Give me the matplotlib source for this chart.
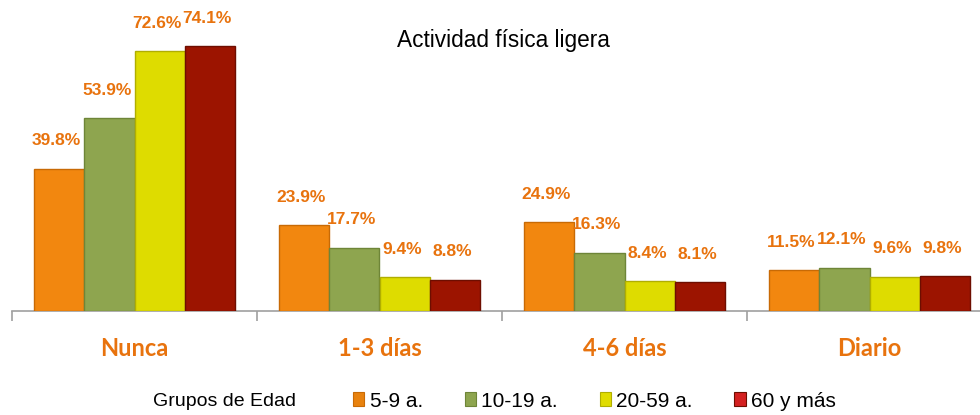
import matplotlib
matplotlib.use("Agg")
import matplotlib.pyplot as plt
from matplotlib.patches import Patch
import numpy as np

categories = ["Nunca", "1-3 días", "4-6 días", "Diario"]
groups = ["5-9 a.", "10-19 a.", "20-59 a.", "60 y más"]
v_5_9 = [39.8, 23.9, 24.9, 11.5]
v_10_19 = [53.9, 17.7, 16.3, 12.1]
v_20_59 = [72.6, 9.4, 8.4, 9.6]
v_60 = [74.1, 8.8, 8.1, 9.8]
series = [v_5_9, v_10_19, v_20_59, v_60]

colors = ["#F2870F", "#8EA54F", "#DEDC00", "#9C1400"]
edges = ["#C86A05", "#6E8538", "#B0AE00", "#6E0E00"]
legend_colors = ["#E8820E", "#8EA54F", "#E0DC00", "#D42020"]
orange = "#E8730E"

W, H = 980, 415
fig = plt.figure(figsize=(W / 100, H / 100), dpi=100)
ax = fig.add_axes([12 / W, (H - 311) / H, 980 / W, 311 / H])
ax.set_xlim(-0.5, 3.5)
ax.set_ylim(0, 86.9)

narrow = ["Liberation Sans Narrow", "Liberation Sans", "DejaVu Sans"]

x = np.arange(len(categories))
bw = 0.205
for i, (vals, c, e) in enumerate(zip(series, colors, edges)):
    pos = x + (i - 1.5) * bw
    ax.bar(pos, vals, width=bw, color=c, edgecolor=e, linewidth=1.0, zorder=3)
    for p, v in zip(pos, vals):
        ax.annotate(f"{v}%", (p, v), xytext=(-2, 20), textcoords="offset points",
                    ha="center", va="center", color=orange, fontsize=12.5,
                    fontweight="bold", family=narrow, annotation_clip=False)

for s in ["top", "right", "left"]:
    ax.spines[s].set_visible(False)
ax.spines["bottom"].set_color("#A0A0A0")
ax.spines["bottom"].set_linewidth(1.2)
ax.set_yticks([])
ax.set_xticks([-0.5, 0.5, 1.5, 2.5, 3.5])
ax.set_xticklabels([])
ax.tick_params(axis="x", direction="out", length=7, color="#A0A0A0", width=1.2)
for xi, cat in zip(x, categories):
    ax.text(xi, -10.6, cat, ha="center", va="center", color=orange, fontsize=17,
            fontweight="bold", family=["Lato", "Open Sans", "DejaVu Sans"],
            transform=ax.transData, clip_on=False)

fig.text(503 / W, 1 - 41 / H, "Actividad física ligera", ha="center", va="center",
         fontsize=16.3, family=["Liberation Sans", "DejaVu Sans"], color="#000000")

fig.text(296 / W, 1 - 401 / H, "Grupos de Edad", ha="right", va="center",
         fontsize=14, family=narrow, color="#000000")
handles = [Patch(facecolor=c, edgecolor=e, linewidth=0.8) for c, e in zip(legend_colors, edges)]
fig.legend(handles, groups, loc="center left", bbox_to_anchor=(353 / W, 1 - 401 / H),
           ncol=4, frameon=False, handlelength=0.55, handleheight=0.65, handletextpad=0.25,
           columnspacing=2.0, borderpad=0, borderaxespad=0,
           prop={"family": narrow, "size": 15})

fig.savefig("out.png", dpi=100)
